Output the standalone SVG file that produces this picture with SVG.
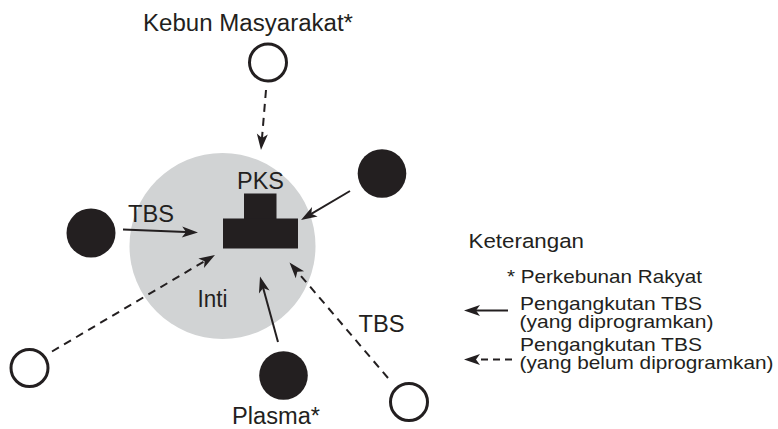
<svg xmlns="http://www.w3.org/2000/svg" width="778" height="429" viewBox="0 0 778 429">
  <style>
    text { font-family: "Liberation Sans", Arial, Helvetica, sans-serif; fill: #231f20; }
    .lbl { font-size: 23px; }
    .leg { font-size: 18.5px; }
    .open { fill: #ffffff; stroke: #231f20; stroke-width: 3; }
    .solid { fill: #231f20; }
    .ln { stroke: #231f20; stroke-width: 2; fill: none; marker-end: url(#ah); }
    .dash { stroke-dasharray: 8 6; }
  </style>
  <defs>
    <marker id="ah" markerUnits="userSpaceOnUse" markerWidth="17" markerHeight="12" refX="10" refY="5.5" orient="auto" overflow="visible">
      <path d="M0,0 L16,5.5 L0,11 L4,5.5 Z" fill="#231f20"/>
    </marker>
  </defs>
  <rect width="778" height="429" fill="#ffffff"/>

  <g id="inti">
    <circle cx="222.5" cy="246" r="93" fill="#d1d3d4"/>
    <text class="lbl" x="197.5" y="306.5" textLength="30" lengthAdjust="spacingAndGlyphs">Inti</text>
  </g>

  <g id="pks">
    <rect x="244" y="193.5" width="32.5" height="26" fill="#231f20"/>
    <rect x="223" y="218.5" width="75" height="30" fill="#231f20"/>
    <text class="lbl" x="237" y="188.5" textLength="47" lengthAdjust="spacingAndGlyphs">PKS</text>
  </g>

  <g id="kebun-masyarakat">
    <circle class="open" cx="268" cy="62.5" r="18.5"/>
    <text class="lbl" x="143" y="31" textLength="210" lengthAdjust="spacingAndGlyphs">Kebun Masyarakat*</text>
  </g>

  <g id="kebun-kanan-atas">
    <circle class="solid" cx="382" cy="173.5" r="24.3"/>
  </g>

  <g id="kebun-kiri">
    <circle class="solid" cx="91" cy="233" r="24.5"/>
  </g>

  <g id="kebun-kiri-bawah">
    <circle class="open" cx="29.5" cy="368" r="18.5"/>
  </g>

  <g id="plasma">
    <circle class="solid" cx="283.5" cy="375.5" r="24.3"/>
    <text class="lbl" x="232" y="424" textLength="88" lengthAdjust="spacingAndGlyphs">Plasma*</text>
  </g>

  <g id="kebun-kanan-bawah">
    <circle class="open" cx="409" cy="402" r="18.5"/>
  </g>

  <g id="connectors">
    <line class="ln dash" x1="266" y1="90" x2="261.5" y2="144"/>
    <line class="ln" x1="350" y1="191" x2="306.2" y2="216.9"/>
    <line class="ln" x1="123" y1="229.5" x2="192" y2="232.3"/>
    <line class="ln dash" x1="52" y1="351.5" x2="209.8" y2="258.1"/>
    <line class="ln" x1="278" y1="342" x2="261.6" y2="282.3"/>
    <line class="ln dash" x1="388" y1="378" x2="293.4" y2="267.1"/>
    <text class="lbl" x="128" y="221.5" textLength="46" lengthAdjust="spacingAndGlyphs">TBS</text>
    <text class="lbl" x="358.5" y="331.5" textLength="46" lengthAdjust="spacingAndGlyphs">TBS</text>
  </g>

  <g id="legend">
    <text x="468.5" y="247.5" style="font-size:20.5px" textLength="115.5" lengthAdjust="spacingAndGlyphs">Keterangan</text>
    <text class="leg" x="507" y="282.5" style="font-size:19px" textLength="195" lengthAdjust="spacingAndGlyphs">* Perkebunan Rakyat</text>
    <line class="ln" x1="508" y1="310.5" x2="470" y2="310.5"/>
    <text class="leg" x="520" y="309.5" textLength="182" lengthAdjust="spacingAndGlyphs">Pengangkutan TBS</text>
    <text class="leg" x="519.5" y="327.5" textLength="194" lengthAdjust="spacingAndGlyphs">(yang diprogramkan)</text>
    <line class="ln dash" x1="512" y1="359.5" x2="470" y2="359.5" style="stroke-dasharray:7 5"/>
    <text class="leg" x="520" y="350.5" textLength="182" lengthAdjust="spacingAndGlyphs">Pengangkutan TBS</text>
    <text class="leg" x="519.5" y="368.5" textLength="254" lengthAdjust="spacingAndGlyphs">(yang belum diprogramkan)</text>
  </g>
</svg>
